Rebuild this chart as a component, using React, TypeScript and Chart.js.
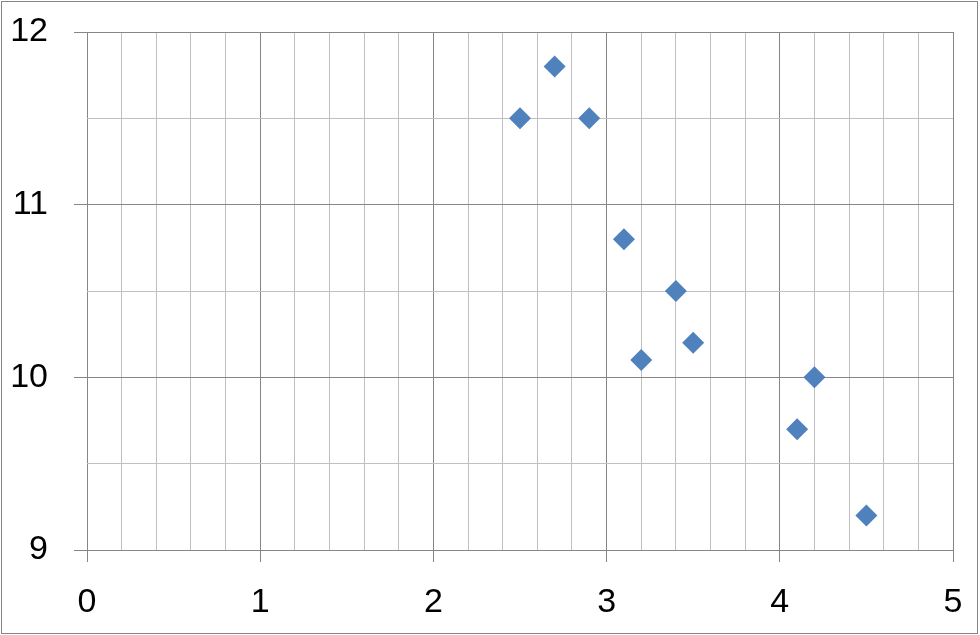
import React, { useEffect, useRef } from "react";
import { Chart, registerables } from "chart.js";

Chart.register(...registerables);

const xValues = [2.5, 2.7, 2.9, 3.1, 3.2, 3.4, 3.5, 4.1, 4.2, 4.5];
const yValues = [11.5, 11.8, 11.5, 10.8, 10.1, 10.5, 10.2, 9.7, 10.0, 9.2];

const isMajor = (v: number) => Math.abs(v - Math.round(v)) < 1e-6;

const borderPlugin = {
  id: "outerBorder",
  afterDraw(chart: any) {
    const ctx = chart.ctx;
    ctx.save();
    ctx.strokeStyle = "#868686";
    ctx.lineWidth = 1;
    ctx.strokeRect(1.5, 1.5, 976, 632);
    ctx.restore();
  },
};

export default function App() {
  const ref = useRef<HTMLCanvasElement>(null);
  useEffect(() => {
    document.body.style.margin = "0";
    const points = xValues.map((x, i) => ({ x, y: yValues[i] }));
    const chart = new Chart(ref.current!, {
      type: "scatter",
      data: {
        datasets: [
          {
            data: points,
            pointStyle: "rectRot",
            pointRadius: 11,
            backgroundColor: "#4f81bd",
            borderColor: "#4f81bd",
            borderWidth: 0,
          },
        ],
      },
      options: {
        animation: false,
        responsive: false,
        devicePixelRatio: 1,
        layout: { padding: { left: 0, right: 27, top: 32, bottom: 0 } },
        plugins: { legend: { display: false }, tooltip: { enabled: false } },
        scales: {
          x: {
            type: "linear",
            min: 0,
            max: 5,
            afterFit: (s: any) => {
              s.height = 85;
              s.paddingLeft = 0;
              s.paddingRight = 0;
            },
            border: { display: false },
            grid: {
              color: (c: any) => (isMajor(c.tick.value) ? "#868686" : "#c0c0c0"),
              tickColor: (c: any) => (isMajor(c.tick.value) ? "#868686" : "rgba(0,0,0,0)"),
              tickLength: 12,
              lineWidth: 1,
            },
            ticks: {
              stepSize: 0.2,
              autoSkip: false,
              maxRotation: 0,
              padding: 20,
              color: "#000",
              font: { family: "Liberation Sans", size: 34 },
              callback: (v: any) => (isMajor(Number(v)) ? String(Math.round(Number(v))) : ""),
            },
          },
          y: {
            type: "linear",
            min: 9,
            max: 12,
            afterFit: (s: any) => {
              s.width = 87;
              s.paddingTop = 0;
              s.paddingBottom = 0;
            },
            border: { display: false },
            grid: {
              color: (c: any) => (isMajor(c.tick.value) ? "#868686" : "#c0c0c0"),
              tickColor: (c: any) => (isMajor(c.tick.value) ? "#868686" : "rgba(0,0,0,0)"),
              tickLength: 13,
              lineWidth: 1,
            },
            ticks: {
              stepSize: 0.5,
              autoSkip: false,
              padding: 26,
              color: "#000",
              font: { family: "Liberation Sans", size: 34 },
              callback: (v: any) => (isMajor(Number(v)) ? String(Math.round(Number(v))) : ""),
            },
          },
        },
      },
      plugins: [borderPlugin],
    });
    return () => chart.destroy();
  }, []);
  return (
    <div style={{ position: "absolute", left: 0, top: 0, width: 980, height: 635, background: "#fff" }}>
      <canvas ref={ref} width={980} height={635} style={{ display: "block" }} />
    </div>
  );
}
